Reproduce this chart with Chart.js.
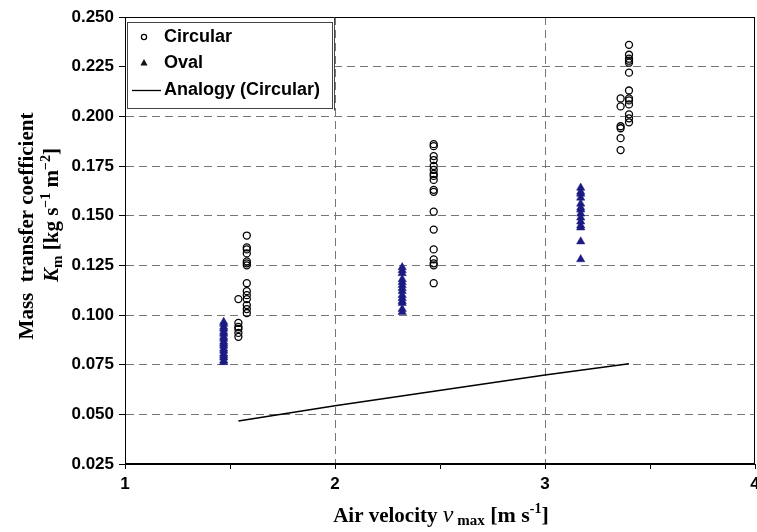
<!DOCTYPE html>
<html>
<head>
<meta charset="utf-8">
<script src="https://cdn.jsdelivr.net/npm/chart.js@4.4.0/dist/chart.umd.min.js"></script>
<style>
  html, body { margin: 0; padding: 0; background: #fff; }
  #wrap { width: 757px; height: 532px; }
</style>
</head>
<body>
<div id="wrap"><canvas id="c" width="757" height="532"></canvas></div>
<script>
// Measured mass transfer coefficients, grouped by air velocity (m/s)
const circVel = [1.54, 1.58, 2.47, 3.36, 3.40];
const circKm = [
  [0.108, 0.096, 0.094, 0.093, 0.091, 0.089],
  [0.140, 0.134, 0.133, 0.131, 0.127, 0.126, 0.125, 0.116, 0.112, 0.110, 0.108, 0.105, 0.103, 0.101],
  [0.186, 0.185, 0.180, 0.178, 0.175, 0.173, 0.171, 0.170, 0.168, 0.163, 0.162, 0.152, 0.143, 0.133, 0.128, 0.126, 0.125, 0.116],
  [0.209, 0.205, 0.195, 0.194, 0.189, 0.183],
  [0.236, 0.231, 0.229, 0.228, 0.227, 0.222, 0.213, 0.209, 0.208, 0.206, 0.201, 0.199, 0.197]
];

const ovalVel = [1.47, 2.32, 3.17];
const ovalKm = [
  [0.0965, 0.0955, 0.094, 0.093, 0.0915, 0.0905, 0.089, 0.088, 0.0865, 0.0855, 0.0845, 0.083, 0.082, 0.0805, 0.0795, 0.0785, 0.077, 0.0762],
  [0.124, 0.1225, 0.121, 0.118, 0.1165, 0.115, 0.1135, 0.112, 0.110, 0.1085, 0.107, 0.106, 0.103, 0.1015],
  [0.164, 0.162, 0.161, 0.159, 0.156, 0.154, 0.153, 0.151, 0.149, 0.147, 0.145, 0.144, 0.137, 0.128]
];

// Heat/mass transfer analogy prediction for the circular tubes
const analogyVel = [1.54, 2.0, 3.0, 3.40];
const analogyKm = [0.0467, 0.0543, 0.0698, 0.0755];

// Axis ticks
const yTicks = [0.025, 0.050, 0.075, 0.100, 0.125, 0.150, 0.175, 0.200, 0.225, 0.250];
const xTicks = [1, 1.5, 2, 2.5, 3, 3.5, 4];
const xMajor = [1, 2, 3, 4];

const NAVY = '#1b1b82';
const GRID = '#767676';

function toPoints(vels, groups) {
  const pts = [];
  vels.forEach((v, i) => groups[i].forEach(k => pts.push({ x: v, y: k })));
  return pts;
}

function drawRuns(ctx, runs, cx, cy, angle) {
  ctx.save();
  ctx.translate(cx, cy);
  ctx.rotate(angle);
  let total = 0;
  runs.forEach(r => { ctx.font = r.font; r.w = ctx.measureText(r.text).width; total += r.w; });
  let x = -total / 2;
  ctx.textAlign = 'left';
  ctx.textBaseline = 'alphabetic';
  ctx.fillStyle = '#000';
  runs.forEach(r => { ctx.font = r.font; ctx.fillText(r.text, x, r.dy || 0); x += r.w; });
  ctx.restore();
}

const SERIF = '"Liberation Serif", "Times New Roman", serif';
const SERIF_B = 'bold 21px ' + SERIF;
const SERIF_B2 = 'bold 22px ' + SERIF;
const SERIF_BS = 'bold 14px ' + SERIF;

const decorations = {
  id: 'decorations',
  afterDraw(chart) {
    const { ctx, chartArea: a } = chart;
    ctx.save();
    // plot frame
    ctx.strokeStyle = '#000';
    ctx.lineWidth = 1;
    ctx.strokeRect(a.left + 0.5, a.top + 0.5, a.right - a.left - 1, a.bottom - a.top - 1);

    // legend box
    ctx.fillStyle = '#fff';
    ctx.fillRect(a.left + 1, a.top + 1, 208, 93);
    ctx.strokeStyle = '#444';
    ctx.strokeRect(127.5, 22.5, 205, 86);
    ctx.beginPath();
    ctx.moveTo(334.5, a.top);
    ctx.lineTo(334.5, 110.5);
    ctx.stroke();

    ctx.font = 'bold 18px "Liberation Sans", Arial, sans-serif';
    ctx.fillStyle = '#000';
    ctx.textBaseline = 'middle';
    ctx.textAlign = 'left';

    // Circular marker
    ctx.strokeStyle = '#000';
    ctx.lineWidth = 1.2;
    ctx.beginPath();
    ctx.arc(144, 37, 2.6, 0, Math.PI * 2);
    ctx.stroke();
    ctx.fillText('Circular', 164, 37);

    // Oval marker
    ctx.fillStyle = '#111';
    ctx.beginPath();
    ctx.moveTo(144, 59);
    ctx.lineTo(147.6, 65.5);
    ctx.lineTo(140.4, 65.5);
    ctx.closePath();
    ctx.fill();
    ctx.fillStyle = '#000';
    ctx.fillText('Oval', 164, 63);

    // Analogy line
    ctx.lineWidth = 1.3;
    ctx.beginPath();
    ctx.moveTo(132, 90.5);
    ctx.lineTo(161, 90.5);
    ctx.stroke();
    ctx.fillText('Analogy (Circular)', 164, 90);
    ctx.restore();

    // axis titles
    drawRuns(ctx, [
      { text: 'Mass  transfer coefficient', font: SERIF_B }
    ], 33, 226, -Math.PI / 2);
    drawRuns(ctx, [
      { text: 'K', font: 'italic bold 21px ' + SERIF },
      { text: 'm', font: 'bold 15px ' + SERIF, dy: 4 },
      { text: ' [kg s', font: SERIF_B },
      { text: '\u22121', font: SERIF_BS, dy: -8 },
      { text: ' m', font: SERIF_B },
      { text: '\u22122', font: SERIF_BS, dy: -8 },
      { text: ']', font: SERIF_B }
    ], 58, 215, -Math.PI / 2);
    drawRuns(ctx, [
      { text: 'Air velocity ', font: SERIF_B },
      { text: 'v', font: 'italic 24px ' + SERIF },
      { text: ' max', font: 'bold 15px ' + SERIF, dy: 3 },
      { text: ' [m s', font: SERIF_B2 },
      { text: '-1', font: SERIF_BS, dy: -9 },
      { text: ']', font: SERIF_B2 }
    ], 441, 522, 0);
  }
};

const tickFont = { family: '"Liberation Sans", Arial, sans-serif', size: 17, weight: 'bold' };

new Chart(document.getElementById('c'), {
  type: 'scatter',
  data: {
    datasets: [
      {
        label: 'Analogy (Circular)',
        data: analogyVel.map((v, i) => ({ x: v, y: analogyKm[i] })),
        showLine: true,
        borderColor: '#000',
        borderWidth: 1.5,
        pointRadius: 0,
        fill: false
      },
      {
        label: 'Oval',
        data: toPoints(ovalVel, ovalKm),
        pointStyle: 'triangle',
        pointRadius: 4.8,
        backgroundColor: NAVY,
        borderColor: NAVY,
        borderWidth: 0.5
      },
      {
        label: 'Circular',
        data: toPoints(circVel, circKm),
        pointStyle: 'circle',
        pointRadius: 3.5,
        backgroundColor: 'rgba(0,0,0,0)',
        borderColor: '#000',
        borderWidth: 1.3
      }
    ]
  },
  options: {
    responsive: false,
    animation: false,
    devicePixelRatio: 1,
    layout: { autoPadding: false, padding: { top: 17, right: 2, left: 0, bottom: 0 } },
    plugins: { legend: { display: false }, tooltip: { enabled: false } },
    scales: {
      x: {
        type: 'linear',
        min: 1,
        max: 4,
        afterFit(s) { s.height = 68; s.paddingLeft = 0; s.paddingRight = 0; },
        afterBuildTicks(s) { s.ticks = xTicks.map(v => ({ value: v })); },
        ticks: {
          autoSkip: false,
          maxRotation: 0,
          padding: 5,
          color: '#000',
          font: tickFont,
          callback: v => xMajor.includes(v) ? String(v) : ''
        },
        grid: {
          color: c => (c.tick && (c.tick.value === 2 || c.tick.value === 3)) ? GRID : 'rgba(0,0,0,0)',
          tickColor: '#000',
          tickLength: 5,
          lineWidth: 1
        },
        border: { color: '#000', width: 1, dash: [8, 5] }
      },
      y: {
        type: 'linear',
        min: 0.025,
        max: 0.250,
        afterFit(s) { s.width = 125; s.paddingTop = 0; s.paddingBottom = 0; },
        afterBuildTicks(s) { s.ticks = yTicks.map(v => ({ value: v })); },
        ticks: {
          autoSkip: false,
          padding: 5,
          color: '#000',
          font: tickFont,
          callback: v => v.toFixed(3)
        },
        grid: {
          color: c => (c.tick && c.index > 0 && c.index < yTicks.length - 1) ? GRID : 'rgba(0,0,0,0)',
          tickColor: '#000',
          tickLength: 6,
          lineWidth: 1
        },
        border: { color: '#000', width: 1, dash: [8, 5] }
      }
    }
  },
  plugins: [decorations]
});
</script>
</body>
</html>
